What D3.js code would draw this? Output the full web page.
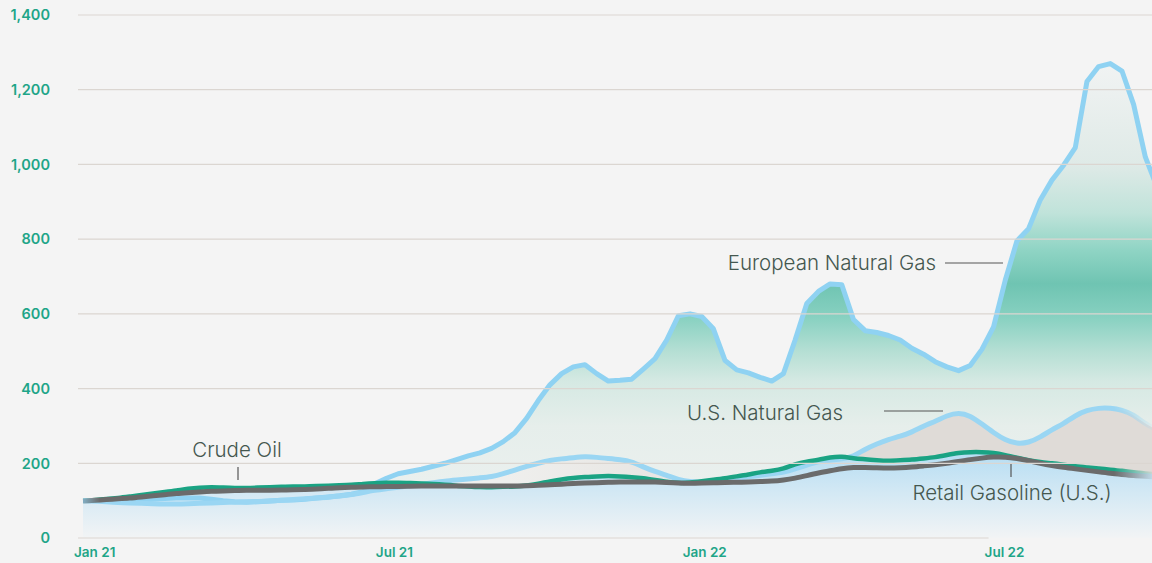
<!DOCTYPE html>
<html>
<head>
<meta charset="utf-8">
<script src="https://cdn.jsdelivr.net/npm/d3@7"></script>
<style>
html, body { margin: 0; padding: 0; background: #f4f4f4; overflow: hidden; }
svg { display: block; }
.axis-label { font-family: Inter, "Open Sans", sans-serif; font-weight: 600; font-size: 14.5px; fill: #1ea588; }
.note { font-family: Inter, "Open Sans", sans-serif; font-weight: 300; font-size: 20.5px; fill: #44574f; }
</style>
</head>
<body>
<script>
// index, Jan 2021 = 100, weekly (Mondays from 4 Jan 2021)
const yTicks = [0, 200, 400, 600, 800, 1000, 1200, 1400];
const xTickDates = ["2021-01-01", "2021-07-01", "2022-01-01", "2022-07-01"];
const xTickLabels = ["Jan 21", "Jul 21", "Jan 22", "Jul 22"];

const euroGas = [100, 100, 100, 99, 100, 101, 104, 106, 107, 107, 107, 104, 100, 97, 96, 97, 99, 101, 102, 104,
  107, 110, 113, 117, 124, 145, 160, 172, 178, 184, 192, 200, 210, 220, 228, 240, 258, 282, 320, 368,
  410, 440, 458, 464, 440, 420, 422, 425, 452, 480, 530, 595, 600, 593, 560, 475, 450, 442, 430, 420,
  440, 530, 628, 660, 680, 678, 585, 555, 550, 542, 530, 508, 492, 472, 458, 448, 462, 505, 565, 690,
  795, 828, 905, 958, 998, 1045, 1222, 1262, 1270, 1250, 1160, 1020, 940];

const usGas = [100, 99, 97, 95, 94, 93, 92, 91, 91, 92, 93, 94, 95, 96, 97, 98, 99, 101, 103, 105,
  107, 109, 112, 116, 122, 128, 132, 136, 140, 144, 148, 152, 155, 158, 161, 164, 172, 182, 192, 200,
  208, 212, 215, 218, 216, 213, 210, 205, 190, 178, 168, 156, 150, 150, 152, 156, 160, 164, 168, 172,
  176, 185, 195, 205, 208, 212, 218, 238, 252, 264, 272, 283, 300, 312, 328, 336, 328, 305, 282, 262,
  252, 255, 270, 290, 306, 328, 342, 348, 348, 343, 330, 305, 290];

const crudeOil = [99, 102, 104, 107, 111, 115, 119, 123, 127, 132, 135, 136, 135, 134, 134, 135, 136, 137, 138, 138,
  139, 140, 141, 142, 145, 147, 148, 148, 147, 146, 145, 143, 140, 138, 136, 136, 137, 138, 140, 145,
  152, 157, 161, 163, 165, 166, 165, 163, 160, 155, 150, 147, 148, 152, 156, 160, 165, 170, 176, 180,
  185, 198, 205, 209, 216, 219, 213, 211, 208, 206, 208, 210, 213, 216, 222, 228, 230, 230, 228, 222,
  215, 208, 203, 200, 196, 192, 189, 186, 183, 180, 176, 173, 170];

const gasoline = [99, 101, 103, 105, 107, 110, 113, 116, 119, 121, 123, 125, 126, 127, 128, 128, 128, 128, 129, 130,
  131, 133, 135, 136, 137, 137, 138, 138, 139, 139, 139, 139, 139, 139, 139, 139, 139, 139, 140, 141,
  143, 144, 146, 147, 148, 149, 150, 150, 150, 150, 149, 147, 146, 147, 148, 149, 149, 150, 151, 152,
  155, 160, 167, 174, 180, 186, 189, 189, 188, 187, 188, 190, 193, 196, 200, 205, 210, 214, 217, 217,
  213, 207, 200, 194, 189, 185, 181, 177, 173, 170, 167, 165, 163];

const weeks = d3.timeMonday.range(new Date(2021, 0, 4), new Date(2022, 9, 15));
const parse = d3.timeParse("%Y-%m-%d");

const width = 1152, height = 563;
const left = 78, right = 1152;

const x = d3.scaleTime()
    .domain([new Date(2021, 0, 1), new Date(2022, 9, 7)])
    .range([left, right]);

const y = d3.scaleLinear()
    .domain([0, 1400])
    .range([538, 15]);

function toPoints(values) {
    return values.map((v, i) => ({ date: weeks[i], v })).filter(d => d.date);
}

const svg = d3.select("body").append("svg")
    .attr("width", width)
    .attr("height", height);

const defs = svg.append("defs");

// teal band for the european gas area
const euroGrad = defs.append("linearGradient")
    .attr("id", "euroFill")
    .attr("gradientUnits", "userSpaceOnUse")
    .attr("x1", 0).attr("x2", 0)
    .attr("y1", 0).attr("y2", height);
[[1300, "#f3f4f4"], [1000, "#dfeae7"], [870, "#c0e3da"], [770, "#8fd4c4"], [680, "#6fc4b2"],
 [590, "#88d1c1"], [500, "#b5dfd4"], [420, "#d5e9e3"], [300, "#e6eeeb"], [0, "#eef2f1"]]
    .forEach(([v, c]) => {
        euroGrad.append("stop").attr("offset", y(v) / height).attr("stop-color", c);
    });

const usGrad = defs.append("linearGradient")
    .attr("id", "usFill")
    .attr("gradientUnits", "userSpaceOnUse")
    .attr("x1", x(parse("2021-09-15"))).attr("x2", x(parse("2022-04-01")))
    .attr("y1", 0).attr("y2", 0);
usGrad.append("stop").attr("offset", 0).attr("stop-color", "#efefed");
usGrad.append("stop").attr("offset", 1).attr("stop-color", "#dfdbd7");

const blueGrad = defs.append("linearGradient")
    .attr("id", "blueFill")
    .attr("gradientUnits", "userSpaceOnUse")
    .attr("x1", 0).attr("x2", 0)
    .attr("y1", y(230)).attr("y2", y(0));
blueGrad.append("stop").attr("offset", 0).attr("stop-color", "#b5ddf3");
blueGrad.append("stop").attr("offset", 0.45).attr("stop-color", "#d2e8f4");
blueGrad.append("stop").attr("offset", 1).attr("stop-color", "#f2f4f5");

// fade the low lines in and out at the edges
const fadeGrad = defs.append("linearGradient")
    .attr("id", "fade")
    .attr("gradientUnits", "userSpaceOnUse")
    .attr("x1", left).attr("x2", right)
    .attr("y1", 0).attr("y2", 0);
fadeGrad.append("stop").attr("offset", 0).attr("stop-color", "#fff").attr("stop-opacity", 0.15);
fadeGrad.append("stop").attr("offset", 0.02).attr("stop-color", "#fff").attr("stop-opacity", 1);
fadeGrad.append("stop").attr("offset", 0.965).attr("stop-color", "#fff").attr("stop-opacity", 1);
fadeGrad.append("stop").attr("offset", 1).attr("stop-color", "#fff").attr("stop-opacity", 0.1);
defs.append("mask").attr("id", "fadeMask")
    .attr("maskUnits", "userSpaceOnUse")
    .attr("x", 0).attr("y", 0)
    .attr("width", width).attr("height", height)
    .append("rect")
    .attr("x", 0).attr("y", 0)
    .attr("width", width).attr("height", height)
    .attr("fill", "url(#fade)");

defs.append("clipPath").attr("id", "plot")
    .append("rect")
    .attr("x", left).attr("y", 0)
    .attr("width", right - left).attr("height", height);

const area = d3.area()
    .x(d => x(d.date))
    .y0(y(0))
    .y1(d => y(d.v));

const smoothArea = d3.area()
    .curve(d3.curveBasis)
    .x(d => x(d.date))
    .y0(y(0))
    .y1(d => y(d.v));

const line = d3.line()
    .x(d => x(d.date))
    .y(d => y(d.v));

const smoothLine = d3.line()
    .curve(d3.curveBasis)
    .x(d => x(d.date))
    .y(d => y(d.v));

const plot = svg.append("g").attr("clip-path", "url(#plot)");

// fills
plot.append("path")
    .attr("d", area(toPoints(euroGas)))
    .attr("fill", "url(#euroFill)");

plot.append("path")
    .attr("d", smoothArea(toPoints(usGas)))
    .attr("fill", "url(#usFill)");

plot.append("path")
    .attr("d", smoothArea(toPoints(crudeOil)))
    .attr("fill", "url(#blueFill)");

// grid
svg.append("g")
    .selectAll("line")
    .data(yTicks)
    .join("line")
    .attr("x1", left)
    .attr("x2", d => d === 0 ? x(parse(xTickDates[3])) : right)
    .attr("y1", d => y(d))
    .attr("y2", d => y(d))
    .attr("stroke", "#dbd6d1")
    .attr("stroke-width", 1.2);

svg.append("g")
    .selectAll("text")
    .data(yTicks)
    .join("text")
    .attr("class", "axis-label")
    .attr("x", 50)
    .attr("y", d => y(d))
    .attr("dy", "0.36em")
    .attr("text-anchor", "end")
    .text(d => d3.format(",")(d));

svg.append("g")
    .selectAll("text")
    .data(xTickDates)
    .join("text")
    .attr("class", "axis-label")
    .attr("x", d => x(parse(d)) - 4)
    .attr("y", 557)
    .style("font-size", "13.5px")
    .text((d, i) => xTickLabels[i]);

// lines
plot.append("path")
    .attr("d", line(toPoints(euroGas)))
    .attr("fill", "none")
    .attr("stroke", "#8fd2f2")
    .attr("stroke-width", 5)
    .attr("stroke-linejoin", "round");

const low = plot.append("g").attr("mask", "url(#fadeMask)");

low.append("path")
    .attr("d", smoothLine(toPoints(usGas)))
    .attr("fill", "none")
    .attr("stroke", "#9ad6f3")
    .attr("stroke-width", 5);

low.append("path")
    .attr("d", smoothLine(toPoints(crudeOil)))
    .attr("fill", "none")
    .attr("stroke", "#1aa383")
    .attr("stroke-width", 4.5);

low.append("path")
    .attr("d", smoothLine(toPoints(gasoline)))
    .attr("fill", "none")
    .attr("stroke", "#6b6b6b")
    .attr("stroke-width", 5);

// labels
const notes = [
    { text: "European Natural Gas", x: 936, y: 270, anchor: "end", lead: [945, 263, 1003, 263] },
    { text: "U.S. Natural Gas", x: 843, y: 420, anchor: "end", lead: [884, 411, 943, 411] },
    { text: "Crude Oil", x: 237, y: 457, anchor: "middle", lead: [238, 467, 238, 480] },
    { text: "Retail Gasoline (U.S.)", x: 1012, y: 500, anchor: "middle", lead: [1011, 464, 1011, 477] }
];

const note = svg.append("g")
    .selectAll("g")
    .data(notes)
    .join("g");

note.append("text")
    .attr("class", "note")
    .attr("x", d => d.x)
    .attr("y", d => d.y)
    .attr("text-anchor", d => d.anchor)
    .text(d => d.text);

note.append("line")
    .attr("x1", d => d.lead[0])
    .attr("y1", d => d.lead[1])
    .attr("x2", d => d.lead[2])
    .attr("y2", d => d.lead[3])
    .attr("stroke", "#555")
    .attr("stroke-width", 1.2);
</script>
</body>
</html>
